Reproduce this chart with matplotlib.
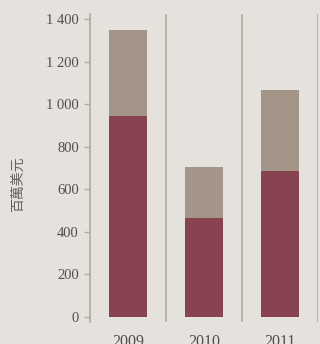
import numpy as np
import matplotlib.pyplot as plt

# 數據 (百萬美元)
years = ["2009", "2010", "2011"]
lower = [945, 465, 686]
upper = [405, 240, 380]
yticks = [0, 200, 400, 600, 800, 1000, 1200, 1400]
ytick_labels = ["0", "200", "400", "600", "800", "1 000", "1 200", "1 400"]

bg = "#e5e1dc"
maroon = "#884350"
grey = "#a39689"
line_c = "#b3aa9e"
text_c = "#505050"

fig = plt.figure(figsize=(3.2, 3.44), dpi=100, facecolor=bg)
ax = fig.add_axes([0.28125, 0.064, 0.7125, 0.8953])
ax.set_facecolor(bg)

x = np.arange(len(years))
ax.bar(x, lower, width=0.5, color=maroon, zorder=3)
ax.bar(x, upper, width=0.5, bottom=lower, color=grey, zorder=3)

for sep in [0.5, 1.5, 2.5]:
    ax.axvline(sep, color=line_c, lw=1.2, zorder=1)

ax.set_xlim(-0.5, 2.5)
ax.set_ylim(-24, 1424)
ax.set_xticks(x)
ax.set_xticklabels(years, fontsize=11.5, family="Liberation Serif", color=text_c)
ax.set_yticks(yticks)
ax.set_yticklabels(ytick_labels, fontsize=10.5, family="Liberation Serif", color=text_c)
ax.tick_params(axis="x", length=0, pad=9)
ax.tick_params(axis="y", length=4, color=line_c, width=1, pad=4)

for s in ["top", "right", "bottom"]:
    ax.spines[s].set_visible(False)
ax.spines["left"].set_color(line_c)
ax.spines["left"].set_linewidth(1.2)

fig.text(0.056, 0.465, "百萬美元", rotation=90, va="center", ha="center",
         fontsize=10, family=["Noto Sans CJK TC"], color="#606060")

fig.savefig("out.png", dpi=100, facecolor=bg)
